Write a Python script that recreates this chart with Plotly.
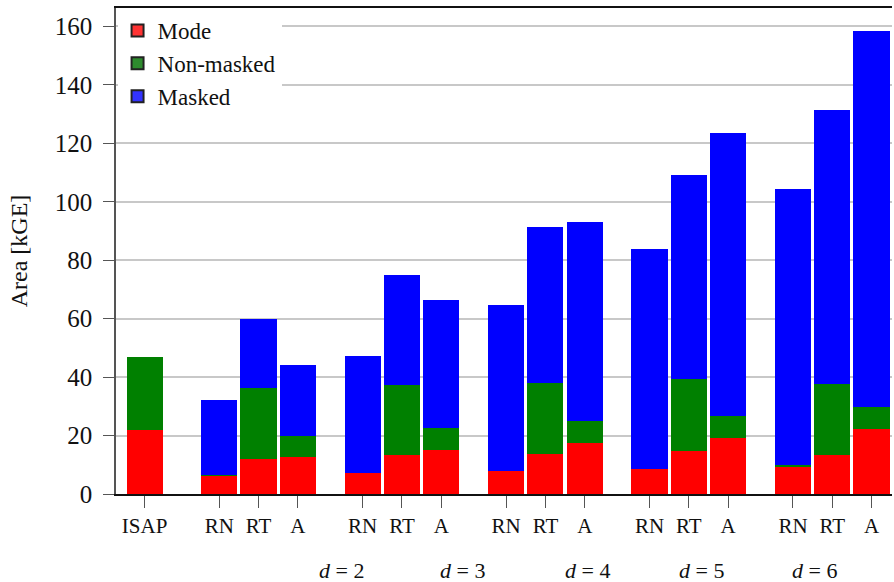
import plotly.graph_objects as go

# ---- data ----
tick_labels = ["ISAP", "RN", "RT", "A", "RN", "RT", "A", "RN", "RT", "A",
               "RN", "RT", "A", "RN", "RT", "A"]
group_labels = ["<i>d</i> = 2", "<i>d</i> = 3", "<i>d</i> = 4", "<i>d</i> = 5", "<i>d</i> = 6"]
group_label_x = [5.02, 8.10, 11.26, 14.16, 17.06]

mode = [22.0, 6.4, 12.0, 12.5, 7.2, 13.2, 15.1, 7.9, 13.8, 17.3,
        8.6, 14.8, 19.3, 9.4, 13.4, 22.3]
non_masked = [25.0, 0.2, 24.4, 7.4, 0.1, 24.2, 7.5, 0.1, 24.3, 7.7,
              0.1, 24.4, 7.45, 0.4, 24.3, 7.5]
masked = [0.0, 25.65, 23.6, 24.35, 40.0, 37.7, 43.95, 56.8, 53.15, 68.0,
          75.0, 69.9, 96.75, 94.5, 93.7, 128.7]

# x positions: ISAP, then 5 groups of 3 bars
first_group = 1.9
group_step = 3.65
xpos = [0.0]
for g in range(5):
    for k in range(3):
        xpos.append(first_group + g * group_step + k)

FONT = "Liberation Serif"
fig = go.Figure()

series = [("Mode", mode, "#ff0000", "#ff3333"),
          ("Non-masked", non_masked, "#008000", "#2e8b2e"),
          ("Masked", masked, "#0000ff", "#3333ff")]

for name, vals, col, lcol in series:
    fig.add_trace(go.Bar(x=xpos, y=vals, name=name, width=0.92,
                         marker=dict(color=col, line=dict(width=0)),
                         showlegend=False))
for name, vals, col, lcol in series:
    fig.add_trace(go.Bar(x=[None], y=[None], name=name,
                         marker=dict(color=lcol, line=dict(color="#222", width=1)),
                         showlegend=True))

for lab, xv in zip(group_labels, group_label_x):
    fig.add_annotation(x=xv, xref="x", y=-0.157, yref="paper", text=lab,
                       showarrow=False, font=dict(family=FONT, size=22, color="#111"),
                       xanchor="center", yanchor="middle")

fig.update_layout(
    width=894, height=582,
    margin=dict(l=116, r=2, t=8, b=88),
    barmode="stack",
    plot_bgcolor="white", paper_bgcolor="white",
    font=dict(family=FONT, color="#111"),
    legend=dict(x=0.002, y=0.998, xanchor="left", yanchor="top", traceorder="normal",
                bgcolor="white", borderwidth=0,
                font=dict(family=FONT, size=23, color="#111"),
                itemsizing="constant"),
    xaxis=dict(range=[-0.728, 19.02], tickvals=xpos, ticktext=tick_labels,
               ticks="outside", ticklen=12, tickcolor="#555", tickwidth=1,
               showline=True, linecolor="#111", linewidth=1.5, mirror=True,
               showgrid=False, zeroline=False,
               tickfont=dict(family=FONT, size=21, color="#111")),
    yaxis=dict(range=[0, 166.3], tickvals=[0, 20, 40, 60, 80, 100, 120, 140, 160],
               ticks="outside", ticklen=11, tickcolor="#555", tickwidth=1,
               showline=True, linecolor="#555", linewidth=1.5,
               showgrid=True, gridcolor="#c8c8c8", gridwidth=1.5,
               zeroline=False, ticklabelstandoff=6,
               tickfont=dict(family=FONT, size=25, color="#111")),
)
fig.update_yaxes(title=dict(text="Area [kGE]", standoff=20,
                            font=dict(family=FONT, size=24, color="#111")))

fig.write_html("out.html", config={"displayModeBar": False},
               post_script="document.body.style.margin='0px';")
